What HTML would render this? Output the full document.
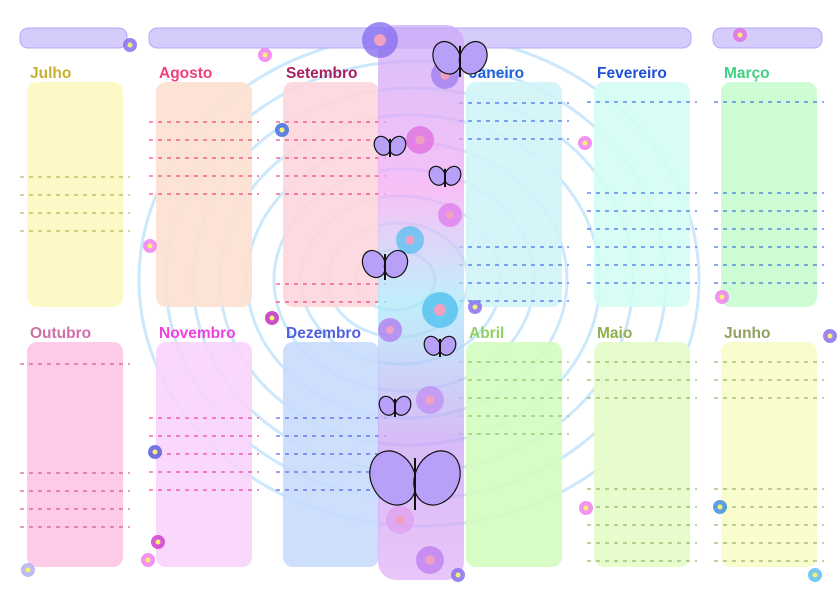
<!DOCTYPE html>
<html><head><meta charset="utf-8"><style>
html,body{margin:0;padding:0;background:#fff;}
svg{display:block;font-family:"Liberation Sans",sans-serif;}
</style></head><body>
<svg id="cal" width="840" height="596" viewBox="0 0 840 596" xmlns="http://www.w3.org/2000/svg">
<defs>
<linearGradient id="strip" x1="0" y1="0" x2="0" y2="1">
<stop offset="0" stop-color="#c8a8f8"/><stop offset="0.3" stop-color="#f4a8f4"/><stop offset="0.5" stop-color="#a8e8f8"/><stop offset="0.75" stop-color="#c8a0f4"/><stop offset="1" stop-color="#e0b0f8"/>
</linearGradient>
</defs>
<g id="swirl"></g>
<g id="topbars">
<rect x="20" y="28" width="107" height="20" rx="8" fill="#d6ccfc" stroke="#b4a8f4"/>
<rect x="149" y="28" width="542" height="20" rx="8" fill="#d6ccfc" stroke="#b4a8f4"/>
<rect x="713" y="28" width="109" height="20" rx="8" fill="#d6ccfc" stroke="#b4a8f4"/>
</g>
<g id="months"></g>
<g id="strip-g">
<rect x="378" y="25" width="86" height="555" rx="18" fill="url(#strip)" opacity="0.72"/>
</g>
<g id="deco"></g>
</svg>
<script>
const monthNames=["Julho","Agosto","Setembro","Janeiro","Fevereiro","Março","Outubro","Novembro","Dezembro","Abril","Maio","Junho"];
const labelColors=["#c8b030","#f0407a","#a82060","#2060d8","#2050d8","#40d080","#d070a8","#f040e0","#5060e0","#90d060","#90b050","#90a060"];
const boxColors=["#fdf8c0","#fde0d2","#fdd6dc","#d0f4f8","#d4fdf4","#c8fcd0","#fdc4e6","#f8d4fc","#c8dcfc","#d4fcc0","#e4fcc8","#f8fcc8"];
const lineColors=["#b0a030","#f02060","#f02060","#2050e0","#2050e0","#2050e0","#c04080","#f02090","#4040e0","#80b050","#80a050","#80a050"];
const lineRows=[[177,195,213,231],[122,140,158,176,194],[122,140,158,176,194,284,302],[103,121,139,247,265,283,301],[102,193,211,229,247,265,283],[102,193,211,229,247,265,283],[364,473,491,509,527],[418,436,454,472,490],[418,436,454,472,490],[362,380,398,416,434],[362,380,398,489,507,525,543,561],[362,380,398,489,507,525,543,561]];
const colX=[27,156,283,466,594,721];
const NS="http://www.w3.org/2000/svg";
function mk(t,a,p){const e=document.createElementNS(NS,t);for(const k in a)e.setAttribute(k,a[k]);p.appendChild(e);return e;}
const sw=document.getElementById('swirl');
for(let i=0;i<9;i++){
 mk('ellipse',{cx:395+i*3,cy:280,rx:40+i*30,ry:30+i*27,fill:'none',stroke:'#bfe2fb','stroke-width':3,opacity:0.8},sw);
}
const mg=document.getElementById('months');
monthNames.forEach((m,i)=>{
 const x=colX[i%6], row=Math.floor(i/6);
 const by=row?342:82, ly=row?338:78;
 const g=mk('g',{},mg);
 
 
 const r=mk('rect',{x:x,y:by,width:96,height:225,rx:10,fill:boxColors[i],opacity:0.9},g);
 
 
 const t=mk('text',{x:x+3,y:ly,fill:labelColors[i],'font-size':15.5,'font-weight':'bold'},g);
 t.textContent=m;
 
 
 lineRows[i].forEach(y=>{
  const l=mk('line',{x1:x-7,x2:x+103,y1:y,y2:y,stroke:lineColors[i],'stroke-width':1,'stroke-dasharray':'4 5'},g);
  
  
 });
});
const st=document.getElementById('strip-g');
const flowers=[[380,40,18,'#8870f0'],[445,75,14,'#a080f0'],[420,140,14,'#e070e0'],[450,215,12,'#e080f0'],[410,240,14,'#60c0f0'],[440,310,18,'#50c0f0'],[390,330,12,'#b080f0'],[430,400,14,'#c090f0'],[400,520,14,'#e0a0f0'],[430,560,14,'#c080f0']];
flowers.forEach(f=>{mk('circle',{cx:f[0],cy:f[1],r:f[2],fill:f[3],opacity:0.8},st);mk('circle',{cx:f[0],cy:f[1],r:f[2]/3,fill:'#f0a0c0'},st);});
const bflies=[[460,65,24],[390,150,14],[445,180,14],[385,270,20],[440,350,14],[395,410,14],[415,490,40]];
bflies.forEach(b=>{
 const [x,y,s]=b;
 mk('ellipse',{cx:x-s*0.55,cy:y-s*0.3,rx:s*0.55,ry:s*0.7,fill:'#b8a0f8',stroke:'#111','stroke-width':1.2,transform:`rotate(-25 ${x-s*0.55} ${y-s*0.3})`},st);
 mk('ellipse',{cx:x+s*0.55,cy:y-s*0.3,rx:s*0.55,ry:s*0.7,fill:'#b8a0f8',stroke:'#111','stroke-width':1.2,transform:`rotate(25 ${x+s*0.55} ${y-s*0.3})`},st);
 mk('line',{x1:x,y1:y-s*0.8,x2:x,y2:y+s*0.5,stroke:'#111','stroke-width':2},st);
});
const dg=document.getElementById('deco');
const small=[[130,45,'#8870f0'],[265,55,'#f080f0'],[282,130,'#4070e0'],[150,246,'#f080f0'],[272,318,'#c030c0'],[155,452,'#6060e0'],[158,542,'#d040d0'],[148,560,'#f080f0'],[740,35,'#e070e0'],[830,336,'#8870f0'],[722,297,'#f080f0'],[720,507,'#4090e0'],[585,143,'#f080f0'],[586,508,'#f080f0'],[815,575,'#60c0f0'],[28,570,'#b0b0f0'],[475,307,'#8870f0'],[458,575,'#8870f0']];
small.forEach(s=>{mk('circle',{cx:s[0],cy:s[1],r:7,fill:s[2],opacity:0.85},dg);mk('circle',{cx:s[0],cy:s[1],r:2.5,fill:'#f8f070'},dg);});
</script>
</body></html>
